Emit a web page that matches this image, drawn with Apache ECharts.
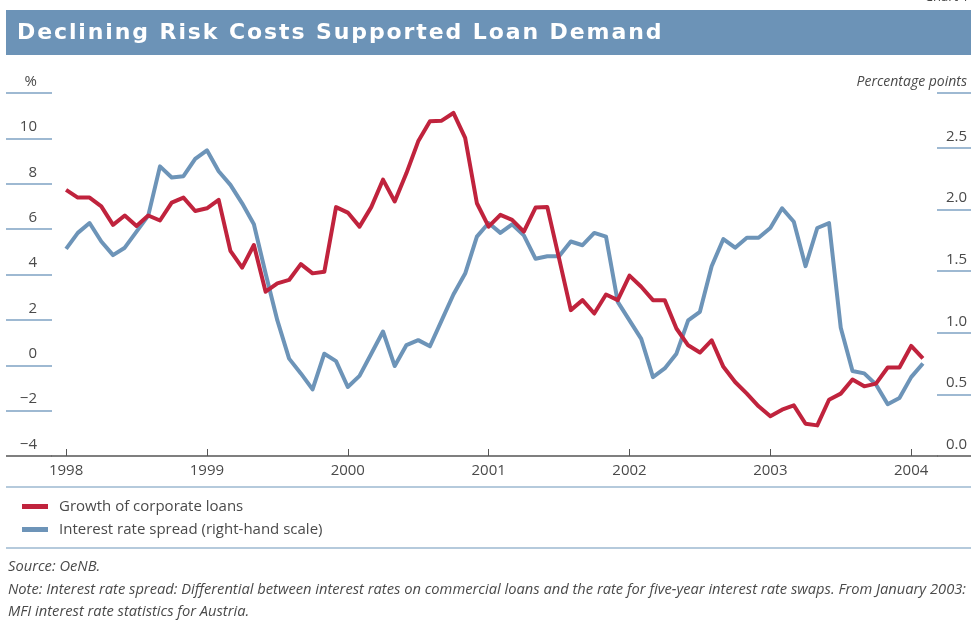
<!DOCTYPE html>
<html>
<head>
<meta charset="utf-8">
<script src="https://cdn.jsdelivr.net/npm/echarts@6/dist/echarts.min.js"></script>
<style>
html,body{margin:0;padding:0;background:#fff;}
#chart{width:971px;height:623px;}
</style>
</head>
<body>
<div id="chart"></div>
<script>
// Monthly observations, January 1998 to February 2004
var months = [];
for (var y = 1998; y <= 2004; y++) {
  for (var mo = 1; mo <= 12; mo++) {
    if (y === 2004 && mo > 2) break;
    months.push(y + '-' + (mo < 10 ? '0' + mo : mo));
  }
}
var loanGrowth = [
  7.73, 7.39, 7.39, 7.00, 6.19, 6.60, 6.14, 6.60, 6.38, 7.17, 7.39, 6.80,
  6.92, 7.29, 5.04, 4.30, 5.30, 3.24, 3.61, 3.76, 4.46, 4.05, 4.12, 6.97,
  6.73, 6.11, 6.97, 8.18, 7.22, 8.47, 9.87, 10.75, 10.78, 11.12, 10.02, 7.14,
  6.11, 6.63, 6.41, 5.89, 6.95, 6.97, 4.71, 2.43, 2.87, 2.28, 3.12, 2.87,
  3.95, 3.46, 2.87, 2.87, 1.62, 0.88, 0.56, 1.10, -0.07, -0.74, -1.25, -1.81,
  -2.25, -1.96, -1.77, -2.58, -2.65, -1.52, -1.25, -0.63, -0.93, -0.81, -0.10, -0.10,
  0.85, 0.30
];
var rateSpread = [
  1.68, 1.81, 1.89, 1.74, 1.63, 1.69, 1.82, 1.95, 2.35, 2.26, 2.27, 2.41,
  2.48, 2.31, 2.20, 2.05, 1.88, 1.48, 1.10, 0.79, 0.67, 0.54, 0.83, 0.77,
  0.56, 0.65, 0.83, 1.01, 0.73, 0.90, 0.94, 0.89, 1.10, 1.31, 1.48, 1.78,
  1.89, 1.81, 1.88, 1.79, 1.60, 1.62, 1.62, 1.74, 1.71, 1.81, 1.78, 1.25,
  1.10, 0.95, 0.64, 0.71, 0.83, 1.10, 1.17, 1.54, 1.76, 1.69, 1.77, 1.77,
  1.85, 2.01, 1.90, 1.54, 1.85, 1.89, 1.04, 0.69, 0.67, 0.58, 0.42, 0.47,
  0.64, 0.75
];
var yearTicks = [0, 12, 24, 36, 48, 60, 72];
var yearLabels = ['1998', '1999', '2000', '2001', '2002', '2003', '2004'];
var leftTicks = [-4, -2, 0, 2, 4, 6, 8, 10, 12];
var rightTicks = [0, 0.5, 1.0, 1.5, 2.0, 2.5];
var rightTop = 2.945;
var seriesNames = ['Growth of corporate loans', 'Interest rate spread (right-hand scale)'];
var titleText = 'Declining Risk Costs Supported Loan Demand';
var sourceText = 'Source: OeNB.';
var noteLines = [
  'Note: Interest rate spread: Differential between interest rates on commercial loans and the rate for five-year interest rate swaps. From January 2003:',
  'MFI interest rate statistics for Austria.'
];

var RED = '#c0233d', BLUE = '#6d94b8', TICKBLUE = '#7fa2c4', DARK = '#555', TXT = '#4a4a4a';
var FONT = '"Open Sans", sans-serif';

function pairs(arr) { return arr.map(function (v, i) { return [i, v]; }); }
function fmtMinus(v) { return v < 0 ? '\u2212' + Math.abs(v) : String(v); }
// letter-spaced title via rich text tokens
var spacedTitle = titleText.split('').map(function (ch) { return '{c|' + ch + '}'; }).join('');

var chart = echarts.init(document.getElementById('chart'), null, {renderer: 'canvas'});
var option = {
  animation: false,
  backgroundColor: '#fff',
  textStyle: {fontFamily: FONT},
  grid: {left: 52, right: 34, top: 93, bottom: 167, containLabel: false},
  xAxis: {
    type: 'value', min: -1.2, max: 74.2,
    axisLine: {show: true, onZero: false, lineStyle: {color: DARK, width: 1.5}},
    axisTick: {show: true, inside: true, length: 7, lineStyle: {color: DARK, width: 1}, customValues: yearTicks},
    axisLabel: {
      customValues: yearTicks, margin: 7, color: TXT, fontSize: 15, fontFamily: FONT,
      formatter: function (v) { return yearLabels[yearTicks.indexOf(Math.round(v))] || ''; }
    },
    splitLine: {show: false}
  },
  yAxis: [
    {
      type: 'value', position: 'left', min: -4, max: 12,
      axisLine: {show: false, onZero: false},
      axisTick: {show: true, length: 46, customValues: [-2, 0, 2, 4, 6, 8, 10, 12], lineStyle: {color: TICKBLUE, width: 1.5}},
      axisLabel: {
        customValues: leftTicks, margin: 15, align: 'right', verticalAlign: 'bottom', padding: [0, 0, 4, 0],
        color: TXT, fontSize: 15, fontFamily: FONT,
        formatter: function (v) { return v === 12 ? '%' : fmtMinus(v); }
      },
      splitLine: {show: false}
    },
    {
      type: 'value', position: 'right', min: 0, max: rightTop,
      axisLine: {show: false, onZero: false},
      axisTick: {show: true, length: 34, customValues: [0.5, 1.0, 1.5, 2.0, 2.5, rightTop], lineStyle: {color: TICKBLUE, width: 1.5}},
      axisLabel: {
        customValues: rightTicks.concat([rightTop]), margin: 30, align: 'right', verticalAlign: 'bottom', padding: [0, 0, 4, 0],
        color: TXT, fontSize: 15, fontFamily: FONT,
        formatter: function (v) { return v > 2.9 ? '{it|Percentage points}' : v.toFixed(1); },
        rich: {it: {fontStyle: 'italic', fontSize: 14, color: TXT, fontFamily: FONT}}
      },
      splitLine: {show: false}
    },
    {
      type: 'value', position: 'left', min: -4, max: 12,
      axisLine: {show: false, onZero: false},
      axisTick: {show: true, length: 46, customValues: [-4], lineStyle: {color: DARK, width: 1.5}},
      axisLabel: {show: false}, splitLine: {show: false}
    },
    {
      type: 'value', position: 'right', min: 0, max: rightTop,
      axisLine: {show: false, onZero: false},
      axisTick: {show: true, length: 34, customValues: [0], lineStyle: {color: DARK, width: 1.5}},
      axisLabel: {show: false}, splitLine: {show: false}
    }
  ],
  legend: {
    orient: 'vertical', left: 17, top: 494, itemWidth: 26, itemHeight: 5, itemGap: 8,
    icon: 'rect',
    textStyle: {fontSize: 15, color: TXT, fontFamily: FONT, padding: [0, 0, 0, 6]},
    data: seriesNames
  },
  series: [
    {
      name: seriesNames[0], type: 'line', yAxisIndex: 0, data: pairs(loanGrowth),
      showSymbol: false, lineStyle: {color: RED, width: 4, join: 'round'}, itemStyle: {color: RED}, z: 3
    },
    {
      name: seriesNames[1], type: 'line', yAxisIndex: 1, data: pairs(rateSpread),
      showSymbol: false, lineStyle: {color: BLUE, width: 4, join: 'round'}, itemStyle: {color: BLUE}, z: 2
    }
  ],
  graphic: [
    {type: 'rect', shape: {x: 6, y: 10, width: 965, height: 45}, style: {fill: '#6c93b7'}, silent: true},
    {type: 'text', left: 17, top: 22, style: {
      text: spacedTitle, fill: '#fff',
      rich: {c: {fill: '#fff', fontSize: 22, fontWeight: 'bold', fontFamily: '"DejaVu Sans", sans-serif', padding: [0, 0.95, 0, 0.95]}}
    }},
    {type: 'text', right: 2, top: -9, style: {text: 'Chart 1', fill: '#444', fontSize: 13, fontFamily: FONT}},
    {type: 'line', shape: {x1: 6, y1: 487, x2: 971, y2: 487}, style: {stroke: '#9db8d0', lineWidth: 1.5}},
    {type: 'line', shape: {x1: 6, y1: 548, x2: 971, y2: 548}, style: {stroke: '#9db8d0', lineWidth: 1.5}},
    {type: 'text', left: 8, top: 559, style: {text: sourceText, fill: TXT, fontSize: 14.7, fontStyle: 'italic', fontFamily: FONT}},
    {type: 'text', left: 8, top: 582, style: {text: noteLines[0], fill: TXT, fontSize: 14.7, fontStyle: 'italic', fontFamily: FONT}},
    {type: 'text', left: 8, top: 604, style: {text: noteLines[1], fill: TXT, fontSize: 14.7, fontStyle: 'italic', fontFamily: FONT}}
  ]
};
chart.setOption(option);
</script>
</body>
</html>
